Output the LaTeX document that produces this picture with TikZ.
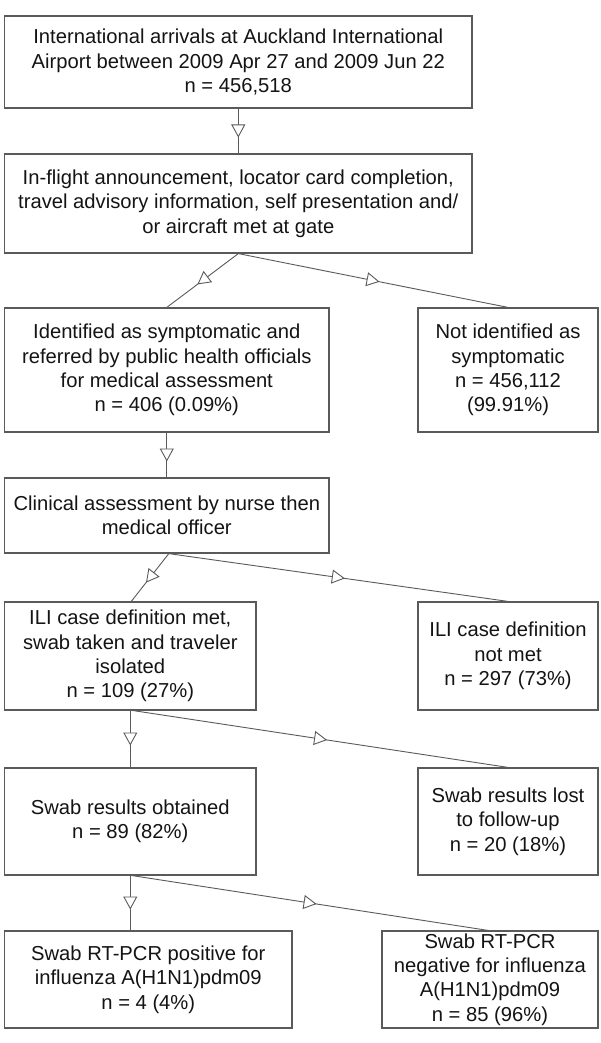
\documentclass[tikz,border=0pt]{standalone}
\usepackage{fontspec}
\setmainfont{Liberation Sans}
\usetikzlibrary{arrows.meta,decorations.markings}
\definecolor{boxgray}{HTML}{5A5A5A}
\definecolor{txt}{HTML}{141414}
\begin{document}
\begin{tikzpicture}[x=1pt,y=-1pt,
  box/.style={draw=boxgray, line width=1.2pt, rectangle, align=center, inner sep=0pt,
    font=\fontsize{20.2}{24.3}\selectfont, text=txt},
  conn/.style={draw=boxgray, line width=0.9pt, postaction={decorate},
    decoration={markings, mark=at position 0.5 with {\arrow[xshift=6.5pt]{Triangle[length=13pt,width=14pt,fill=white,line width=0.9pt]}}}}]
\fill[white] (0,0) rectangle (600,1043);
\useasboundingbox (0,0) rectangle (600,1043);

\node[box, minimum width=467.4pt, minimum height=92pt] (b1) at (238.3,62)
  {International arrivals at Auckland International\\Airport between 2009 Apr 27 and 2009 Jun 22\\n = 456,518};
\node[box, minimum width=467.4pt, minimum height=99pt] (b2) at (238.3,203.5)
  {In-flight announcement, locator card completion,\\travel advisory information, self presentation and/\\or aircraft met at gate};
\node[box, minimum width=324.4pt, minimum height=124pt] (b3) at (166.8,370)
  {Identified as symptomatic and\\referred by public health officials\\for medical assessment\\n = 406 (0.09\%)};
\node[box, minimum width=180pt, minimum height=124pt] (b4) at (508,370)
  {Not identified as\\symptomatic\\n = 456,112\\(99.91\%)};
\node[box, minimum width=324.4pt, minimum height=75pt] (b5) at (166.8,515.5)
  {Clinical assessment by nurse then\\medical officer};
\node[box, minimum width=251.4pt, minimum height=108pt] (b6) at (130.3,656)
  {ILI case definition met,\\swab taken and traveler\\isolated\\n = 109 (27\%)};
\node[box, minimum width=180pt, minimum height=108pt] (b7) at (508,656)
  {ILI case definition\\not met\\n = 297 (73\%)};
\node[box, minimum width=251.4pt, minimum height=107pt] (b8) at (130.3,821.5)
  {Swab results obtained\\n = 89 (82\%)};
\node[box, minimum width=180pt, minimum height=107pt] (b9) at (508,821.5)
  {Swab results lost\\to follow-up\\n = 20 (18\%)};
\node[box, minimum width=287.4pt, minimum height=97pt] (b10) at (148.3,979.5)
  {Swab RT-PCR positive for\\influenza A(H1N1)pdm09\\n = 4 (4\%)};
\node[box, minimum width=216pt, minimum height=97pt] (b11) at (490,979.5)
  {Swab RT-PCR\\negative for influenza\\A(H1N1)pdm09\\n = 85 (96\%)};

\draw[conn] (b1.south) -- (b2.north);
\draw[conn] (b2.south) -- (b3.north);
\draw[conn] (b2.south) -- (b4.north);
\draw[conn] (b3.south) -- (b5.north);
\draw[conn] ([xshift=2pt]b5.south) -- ([xshift=1pt]b6.north);
\draw[conn] ([xshift=2pt]b5.south) -- (b7.north);
\draw[conn] (b6.south) -- (b8.north);
\draw[conn] ([xshift=3pt]b6.south) -- (b9.north);
\draw[conn] (b8.south) -- (b8.south |- b10.north);
\draw[conn] ([xshift=2pt]b8.south) -- ([xshift=-2pt]b11.north);
\end{tikzpicture}
\end{document}
